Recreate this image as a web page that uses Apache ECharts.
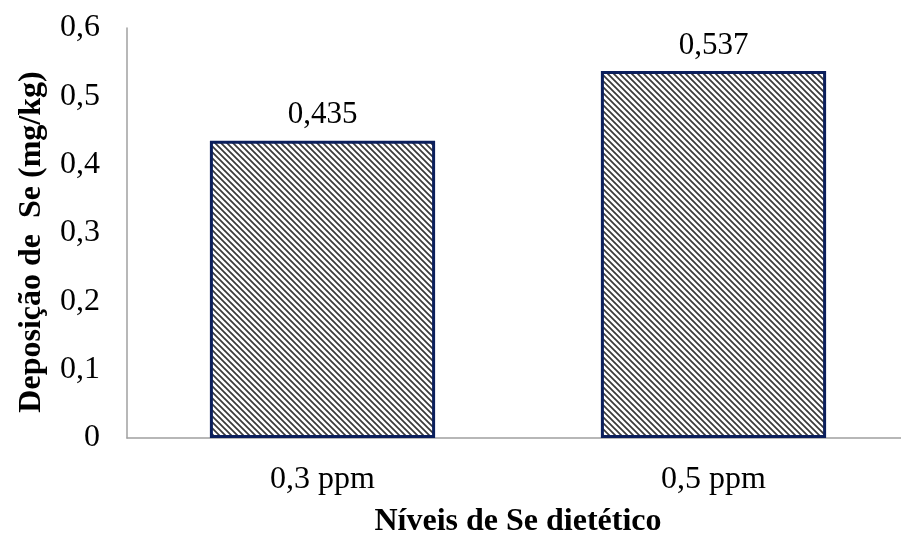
<!DOCTYPE html>
<html><head><meta charset="utf-8">
<script src="https://cdn.jsdelivr.net/npm/echarts@6/dist/echarts.min.js"></script>
<style>html,body{margin:0;padding:0;background:#fff}#c{width:901px;height:537px}</style>
</head><body><div id="c"></div>
<script>
const categories = ['0,3 ppm', '0,5 ppm'];
const values = [0.435, 0.537];
const yTicks = [0, 0.1, 0.2, 0.3, 0.4, 0.5, 0.6];
const xTitle = 'Níveis de Se dietético';
const yTitle = 'Deposição de  Se (mg/kg)';

function makePattern() {
  const s = 6;
  const cv = document.createElement('canvas');
  cv.width = s; cv.height = s;
  const g = cv.getContext('2d');
  g.fillStyle = '#ffffff'; g.fillRect(0, 0, s, s);
  g.strokeStyle = '#3a3a3a'; g.lineWidth = 1.7;
  g.beginPath();
  for (let k = -1; k <= 1; k++) {
    g.moveTo(k * s - 1, -1); g.lineTo(k * s + s + 1, s + 1);
  }
  g.stroke();
  return cv;
}
const fmt = v => String(v).replace('.', ',');
const font = '"Liberation Serif", "Times New Roman", serif';
const chart = echarts.init(document.getElementById('c'));
chart.setOption({
  animation: false,
  textStyle: { fontFamily: font },
  grid: { left: 127, width: 782, top: 28, height: 410, containLabel: false, outerBoundsMode: 'none' },
  xAxis: {
    type: 'category', data: categories,
    axisLine: { lineStyle: { color: '#a0a0a0', width: 1.5 } },
    axisTick: { show: false },
    axisLabel: { color: '#000', fontSize: 32, fontFamily: font, margin: 26 },
    name: xTitle, nameLocation: 'middle', nameGap: 68,
    nameTextStyle: { color: '#000', fontSize: 32, fontWeight: 'bold', fontFamily: font }
  },
  yAxis: {
    type: 'value', min: yTicks[0], max: yTicks[yTicks.length - 1], interval: 0.1,
    axisLine: { show: true, lineStyle: { color: '#a0a0a0', width: 1.5 } },
    axisTick: { show: false },
    splitLine: { show: false },
    axisLabel: { color: '#000', fontSize: 32, fontFamily: font, margin: 27, formatter: v => fmt(+v.toFixed(1)) }
  },
  graphic: [{
    type: 'text', x: 32, y: 242, rotation: Math.PI / 2,
    style: { text: yTitle, fill: '#000', font: 'bold 32px ' + font, textAlign: 'center', textVerticalAlign: 'middle' }
  }],
  series: [{
    type: 'bar', data: values, barWidth: '57.6%',
    itemStyle: { color: { image: makePattern(), repeat: 'repeat' }, borderColor: '#0b1f5c', borderWidth: 3 },
    label: { show: true, position: 'top', distance: 10, color: '#000', fontSize: 31, fontFamily: font, formatter: p => fmt(p.value) }
  }]
});
</script></body></html>
